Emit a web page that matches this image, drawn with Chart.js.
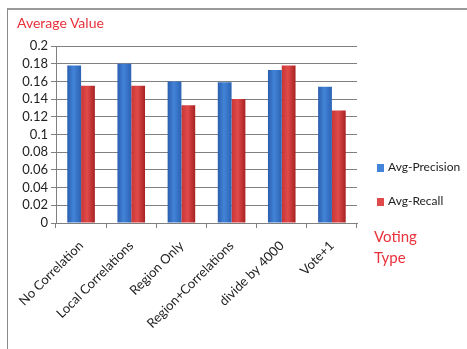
<!DOCTYPE html>
<html>
<head>
<meta charset="utf-8">
<script src="https://cdn.jsdelivr.net/npm/chart.js@4/dist/chart.umd.min.js"></script>
<style>
  html, body { margin: 0; padding: 0; background: #fff; }
  #wrap { position: relative; width: 467px; height: 349px; overflow: hidden; font-family: Lato, "Open Sans", sans-serif; }
  #frame { position: absolute; left: 7px; top: 8px; width: 500px; height: 400px; border-left: 1px solid #8a8a8a; border-top: 2px solid #9a9a9a; }
  #chart { position: absolute; left: 0; top: 0; }
  .red { position: absolute; color: #e8313a; font-size: 15px; }
  #legend { position: absolute; left: 377px; top: 159px; font-size: 12px; color: #222; }
  #legend div { height: 34px; line-height: 16px; }
  #legend span.box { display: inline-block; width: 7px; height: 8px; margin-right: 4px; vertical-align: -1px; }
</style>
</head>
<body>
<div id="wrap">
  <div id="frame"></div>
  <canvas id="chart" width="467" height="349"></canvas>
  <div class="red" style="left:17px;top:14px;font-size:14px;">Average Value</div>
  <div class="red" style="left:374px;top:226px;line-height:21px;">Voting<br>Type</div>
  <div id="legend"></div>
</div>
<script>
// categories and series
const votingTypes = ['No Correlation', 'Local Correlations', 'Region Only', 'Region+Correlations', 'divide by 4000', 'Vote+1'];
const avgPrecision = [0.178, 0.180, 0.160, 0.159, 0.173, 0.154];
const avgRecall = [0.155, 0.155, 0.133, 0.140, 0.178, 0.127];
const yTicks = [0, 0.02, 0.04, 0.06, 0.08, 0.1, 0.12, 0.14, 0.16, 0.18, 0.2];

const seriesNames = ['Avg-Precision', 'Avg-Recall'];
const shades = [
  ['#2a5eae', '#4284d8', '#2c62b4'],
  ['#c83636', '#e04a4a', '#a82222']
];
const catPct = 0.55;

// glassy horizontal shading per bar
function barShade(si) {
  return ctx => {
    const chart = ctx.chart;
    const xs = chart.scales.x;
    if (!xs || ctx.dataIndex == null) return shades[si][1];
    const catW = xs.width / votingTypes.length;
    const bw = catW * catPct / 2;
    const c = xs.getPixelForValue(ctx.dataIndex);
    const left = c - catW * catPct / 2 + si * bw;
    if (!isFinite(left) || !isFinite(bw) || bw <= 0) return shades[si][1];
    const g = chart.ctx.createLinearGradient(left, 0, left + bw, 0);
    g.addColorStop(0, shades[si][0]);
    g.addColorStop(0.45, shades[si][1]);
    g.addColorStop(1, shades[si][2]);
    return g;
  };
}

const legend = document.getElementById('legend');
seriesNames.forEach((n, i) => {
  legend.innerHTML += '<div><span class="box" style="background:' + shades[i][1] + '"></span>' + n + '</div>';
});

new Chart(document.getElementById('chart'), {
  type: 'bar',
  data: {
    labels: votingTypes,
    datasets: [
      { label: seriesNames[0], data: avgPrecision, backgroundColor: barShade(0) },
      { label: seriesNames[1], data: avgRecall, backgroundColor: barShade(1) }
    ]
  },
  options: {
    responsive: false,
    animation: false,
    layout: { padding: { left: 8, right: 110, top: 46, bottom: 0 } },
    datasets: { bar: { categoryPercentage: catPct, barPercentage: 1 } },
    plugins: { legend: { display: false }, tooltip: { enabled: false } },
    scales: {
      x: {
        grid: { display: true, drawOnChartArea: false, offset: true, tickLength: 5, color: '#808080' },
        border: { color: '#808080' },
        ticks: { minRotation: 45, maxRotation: 45, autoSkip: false, color: '#222', font: { family: 'Lato', size: 13 }, padding: 10 },
        afterFit: s => { s.height = 126; }
      },
      y: {
        min: 0, max: 0.2,
        afterBuildTicks: s => { s.ticks = yTicks.map(v => ({ value: v })); },
        grid: { color: '#808080', tickLength: 5 },
        border: { color: '#808080' },
        ticks: {
          autoSkip: false,
          color: '#222', font: { family: 'Lato', size: 13 }, padding: 3,
          callback: v => String(+v.toFixed(2))
        },
        afterFit: s => { s.width = 48; }
      }
    }
  }
});
</script>
</body>
</html>
